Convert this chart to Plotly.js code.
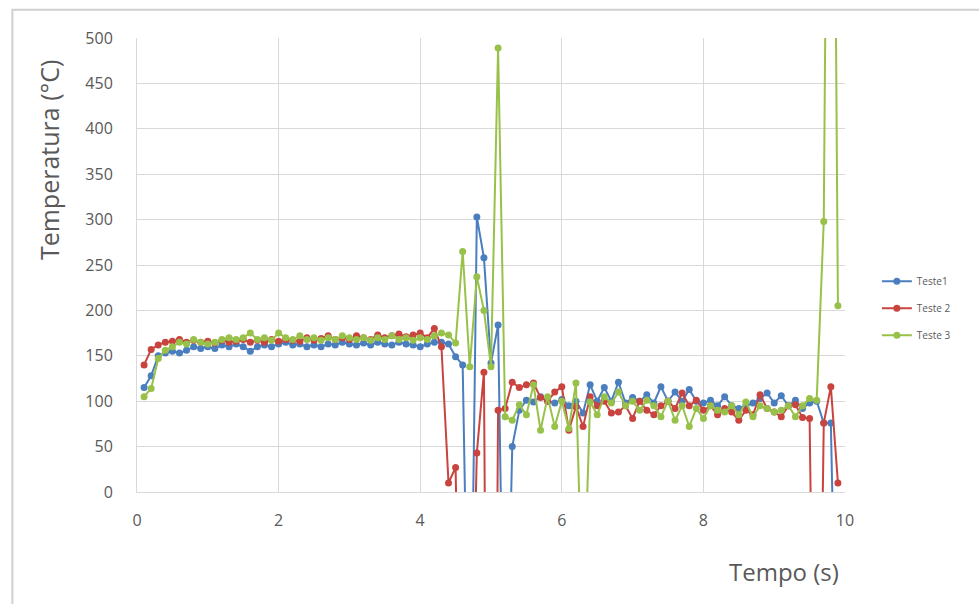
<!DOCTYPE html>
<html>
<head>
<meta charset="utf-8">
<script src="https://cdn.plot.ly/plotly-3.0.1.min.js"></script>
<style>html,body{margin:0;padding:0;background:#fff;}#chart{width:979px;height:604px;}</style>
</head>
<body>
<div id="chart"></div>
<script>
// Time (s)
const tempo = [
  0.1,0.2,0.3,0.4,0.5,0.6,0.7,0.8,0.9,1.0,
  1.1,1.2,1.3,1.4,1.5,1.6,1.7,1.8,1.9,2.0,
  2.1,2.2,2.3,2.4,2.5,2.6,2.7,2.8,2.9,3.0,
  3.1,3.2,3.3,3.4,3.5,3.6,3.7,3.8,3.9,4.0,
  4.1,4.2,4.3,4.4,4.5,4.6,4.7,4.8,4.9,5.0,
  5.1,5.2,5.3,5.4,5.5,5.6,5.7,5.8,5.9,6.0,
  6.1,6.2,6.3,6.4,6.5,6.6,6.7,6.8,6.9,7.0,
  7.1,7.2,7.3,7.4,7.5,7.6,7.7,7.8,7.9,8.0,
  8.1,8.2,8.3,8.4,8.5,8.6,8.7,8.8,8.9,9.0,
  9.1,9.2,9.3,9.4,9.5,9.6,9.7,9.8,9.9
];
// Temperature (°C)
const teste1 = [
  115,128,150,153,155,153,156,160,158,160,
  158,162,160,163,160,155,160,162,160,163,
  165,162,163,160,162,160,163,162,165,163,
  162,164,162,165,163,162,165,163,162,160,
  163,165,165,163,149,140,-300,303,258,142,
  184,-300,50,90,101,99,105,100,98,102,
  95,100,87,118,100,115,100,121,98,104,
  100,107,98,116,100,110,100,113,100,98,
  101,95,105,95,92,95,98,103,109,98,
  106,95,101,92,98,100,76,76,-300
];
const teste2 = [
  140,157,162,165,166,168,165,167,165,166,
  164,167,165,166,168,165,167,165,168,166,
  168,167,166,170,167,169,172,168,170,168,
  172,170,168,173,170,172,174,171,173,175,
  170,180,160,10,27,-400,-300,43,132,-1000,
  90,92,121,115,118,120,104,100,110,116,
  68,94,72,105,95,100,87,88,95,81,
  100,90,85,95,100,92,109,95,101,90,
  95,85,92,88,79,90,85,107,92,88,
  83,95,96,82,81,-500,76,116,10
];
const teste3 = [
  105,114,147,156,160,165,163,168,165,163,
  165,168,170,168,170,175,168,170,167,175,
  170,168,172,168,170,167,170,168,172,170,
  168,170,167,170,168,172,168,170,167,170,
  168,172,175,173,164,265,138,237,200,138,
  489,83,79,96,85,118,68,105,72,100,
  70,120,-150,99,85,105,98,110,95,100,
  90,101,95,83,100,79,95,72,92,81,
  95,90,88,95,85,99,83,95,92,88,
  90,95,83,95,103,101,298,1300,205
];
const seriesNames = ['Teste1', 'Teste 2', 'Teste 3'];
const xTicks = [0, 2, 4, 6, 8, 10];
const yTicks = [0, 50, 100, 150, 200, 250, 300, 350, 400, 450, 500];

const colors = ['#4a7ebf', '#c9443f', '#98c14a'];
const data = [teste1, teste2, teste3].map((ys, i) => ({
  type: 'scatter',
  mode: 'lines+markers',
  x: tempo,
  y: ys,
  name: seriesNames[i],
  legendgroup: 'g' + i,
  line: {color: colors[i], width: 2},
  marker: {color: colors[i], size: 7},
  cliponaxis: true
}));

const axisFont = {family: 'Open Sans, sans-serif', size: 16, color: '#595959'};
const layout = {
  width: 979, height: 604,
  margin: {l: 137, r: 134, t: 38, b: 112},
  paper_bgcolor: '#ffffff',
  plot_bgcolor: '#ffffff',
  showlegend: true,
  xaxis: {
    range: [0, 10], tickvals: xTicks, ticktext: xTicks.map(String),
    showgrid: true, gridcolor: '#d9d9d9', gridwidth: 1,
    zeroline: false, showline: true, linecolor: '#d9d9d9',
    ticks: '', tickfont: axisFont, ticklabelstandoff: 14, fixedrange: true
  },
  yaxis: {
    range: [0, 500], tickvals: yTicks, ticktext: yTicks.map(String),
    showgrid: true, gridcolor: '#d9d9d9', gridwidth: 1,
    zeroline: false, showline: true, linecolor: '#d9d9d9',
    ticks: '', tickfont: axisFont, ticklabelstandoff: 20, fixedrange: true
  },
  legend: {
    x: 1.045, y: 0.405, xanchor: 'left', yanchor: 'middle',
    font: {family: 'Open Sans, sans-serif', size: 10, color: '#595959'},
    itemwidth: 30, traceorder: 'grouped', tracegroupgap: 8,
    bgcolor: 'rgba(0,0,0,0)'
  },
  annotations: [
    {text: 'Temperatura (°C)', xref: 'paper', yref: 'paper', x: -0.125, y: 0.73,
     xanchor: 'center', yanchor: 'middle', textangle: -90, showarrow: false,
     font: {family: 'Open Sans, sans-serif', size: 25, color: '#595959'}},
    {text: 'Tempo (s)', xref: 'paper', yref: 'paper', x: 0.995, y: -0.175,
     xanchor: 'right', yanchor: 'middle', showarrow: false,
     font: {family: 'Open Sans, sans-serif', size: 24, color: '#595959'}}
  ],
  shapes: [
    {type: 'rect', xref: 'paper', yref: 'paper', x0: -0.176, x1: 1.25, y0: -0.3, y1: 1.062,
     line: {color: '#d0d0d0', width: 2}, fillcolor: 'rgba(0,0,0,0)', layer: 'below'}
  ]
};

Plotly.newPlot('chart', data, layout, {displayModeBar: false, staticPlot: true});
</script>
</body>
</html>
